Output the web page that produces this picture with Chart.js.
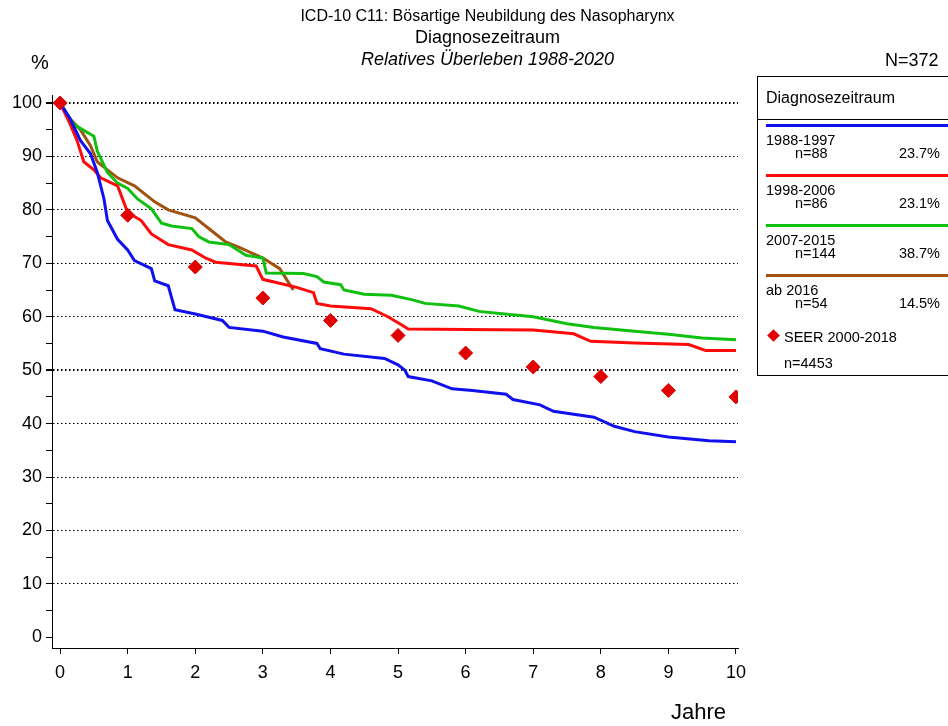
<!DOCTYPE html>
<html><head><meta charset="utf-8">
<script src="https://cdn.jsdelivr.net/npm/chart.js@4"></script>
<style>
body{margin:0;background:#fff;font-family:"Liberation Sans",Arial,sans-serif;}
#wrap{position:relative;width:948px;height:726px;overflow:hidden;}
.t{position:absolute;white-space:nowrap;color:#000;}
#leg{position:absolute;left:757px;top:76px;width:205px;height:298px;border:1px solid #000;font-size:14.5px;}
.row{position:absolute;left:8px;width:182px;}
.bar{height:3px;width:182px;}
</style></head><body>
<div id="wrap">
<canvas id="c" width="948" height="726"></canvas>
<div class="t" style="left:0;width:975px;text-align:center;top:7px;font-size:16px">ICD-10 C11: Bösartige Neubildung des Nasopharynx</div>
<div class="t" style="left:0;width:975px;text-align:center;top:27px;font-size:18px">Diagnosezeitraum</div>
<div class="t" style="left:0;width:975px;text-align:center;top:49px;font-size:18px;font-style:italic">Relatives Überleben 1988-2020</div>
<div class="t" style="left:31px;top:51px;font-size:20px">%</div>
<div class="t" style="left:885px;top:50px;font-size:18px">N=372</div>
<div class="t" style="left:671px;top:699px;font-size:22px">Jahre</div>
<div id="leg"></div>
</div>
<script>
const groups = ['1988-1997', '1998-2006', '2007-2015', 'ab 2016'];
const groupN = ['n=88', 'n=86', 'n=144', 'n=54'];
const groupPct = ['23.7%', '23.1%', '38.7%', '14.5%'];
const colors = ['#1010ee', '#ff0a0a', '#10c010', '#a0520e'];

const blueT = [0,0.15,0.3,0.45,0.55,0.65,0.7,0.85,1.0,1.1,1.35,1.4,1.6,1.7,2.0,2.4,2.5,3.0,3.3,3.8,3.85,4.2,4.8,5.0,5.1,5.15,5.5,5.8,6.1,6.6,6.7,7.1,7.3,7.9,8.2,8.5,9.0,9.6,10];
const blueV = [100,97,93,90.5,87,82,78,74.5,72.5,70.5,69,66.7,65.8,61.3,60.5,59.3,58,57.3,56.2,55,54,53,52.2,51,50,48.8,48,46.5,46.2,45.5,44.5,43.5,42.3,41.2,39.5,38.5,37.5,36.8,36.6];
const redT = [0,0.15,0.25,0.35,0.5,0.6,0.85,1.0,1.2,1.35,1.6,1.95,2.15,2.3,2.9,3.0,3.5,3.75,3.8,4.0,4.6,4.85,5.05,5.15,6.0,7.0,7.6,7.85,8.5,9.3,9.55,10];
const redV = [100,96,93,89,87.5,86,84.5,79.5,78,75.5,73.5,72.5,71,70.2,69.5,67,65.5,64.5,62.5,62,61.5,60,58.5,57.7,57.6,57.5,56.8,55.4,55.1,54.8,53.7,53.7];
const greenT = [0,0.2,0.4,0.5,0.55,0.7,0.85,1.0,1.15,1.35,1.5,1.65,1.95,2.05,2.2,2.5,2.75,3.0,3.05,3.6,3.8,3.9,4.15,4.2,4.5,4.9,5.2,5.4,5.9,6.2,6.5,7.0,7.5,7.9,8.5,9.0,9.5,10];
const greenV = [100,96,94.5,93.8,91,87,85,84,82,80.2,77.5,77,76.5,75,74,73.5,71.5,71,68.2,68.1,67.5,66.5,66,65,64.2,64,63.2,62.5,62,61,60.6,60,58.7,58,57.3,56.7,56,55.7];
const brownT = [0,0.15,0.3,0.45,0.55,0.7,0.85,1.1,1.4,1.6,2.0,2.25,2.45,2.65,3.0,3.25,3.35,3.45];
const brownV = [100,97,95,92,89,87.5,86,84.5,81.5,80,78.5,76,74,73,71,69,67,65];
const seerT = [0,1,2,3,4,5,6,7,8,9,10];
const seerV = [100,79,69.3,63.5,59.3,56.5,53.2,50.6,48.8,46.2,45];

function pts(t, v) { return t.map((x, i) => ({x: x, y: v[i]})); }
const series = [pts(blueT, blueV), pts(redT, redV), pts(greenT, greenV), pts(brownT, brownV)];

const datasets = series.map((d, i) => ({
    label: groups[i], data: d, showLine: true, borderColor: colors[i],
    borderWidth: 3, pointRadius: 0, tension: 0, order: 2
}));
datasets.push({
    label: 'SEER 2000-2018', data: pts(seerT, seerV), showLine: false,
    pointStyle: 'rectRot', pointRadius: 7, backgroundColor: '#e00000', borderColor: '#e00000', order: 1
});

new Chart(document.getElementById('c'), {
    type: 'scatter',
    data: {datasets: datasets},
    options: {
        responsive: false, animation: false,
        layout: {padding: {left: 0, right: 210, top: 95, bottom: 0}},
        plugins: {legend: {display: false}, tooltip: {enabled: false}},
        scales: {
            x: {
                min: -0.12, max: 10.03,
                afterFit: s => { s.height = 78; },
                afterBuildTicks: s => { s.ticks = [0,1,2,3,4,5,6,7,8,9,10].map(v => ({value: v})); },
                ticks: {color: '#000', font: {size: 18, family: 'Liberation Sans'}, padding: 8},
                grid: {display: true, color: 'transparent', tickColor: '#000', tickLength: 6, drawOnChartArea: false},
                border: {color: '#000', width: 1}
            },
            y: {
                min: -2, max: 101.5,
                afterFit: s => { s.width = 52; },
                afterBuildTicks: s => { const a = []; for (let v = 0; v <= 100; v += 5) a.push({value: v}); s.ticks = a; },
                ticks: {color: '#000', font: {size: 18, family: 'Liberation Sans'}, padding: 4,
                    callback: v => (v % 10 === 0 ? v : '')},
                grid: {
                    color: c => (c.tick && c.tick.value % 10 === 0 && c.tick.value > 0 ? '#000' : 'transparent'),
                    lineWidth: c => (c.tick && (c.tick.value === 100 || c.tick.value === 50) ? 2 : 1),
                    tickColor: '#000', tickLength: 6
                },
                border: {color: '#000', width: 1, dash: [1.5, 2.5]}
            }
        }
    }
});

// legend box
const leg = document.getElementById('leg');
let html = '<div class="t" style="left:8px;top:12px;font-size:16px">Diagnosezeitraum</div>' +
    '<div style="position:absolute;left:0;top:42px;width:100%;border-top:1px solid #000"></div>';
groups.forEach((g, i) => {
    const top = 47 + i * 50;
    html += '<div class="row" style="top:' + top + 'px"><div class="bar" style="background:' + colors[i] + '"></div></div>' +
        '<div class="t" style="left:8px;top:' + (top + 8) + 'px">' + g + '</div>' +
        '<div class="t" style="left:37px;top:' + (top + 21) + 'px">' + groupN[i] + '</div>' +
        '<div class="t" style="left:130px;top:' + (top + 21) + 'px;width:52px;text-align:right">' + groupPct[i] + '</div>';
});
html += '<div class="t" style="left:11px;top:254px;width:9px;height:9px;background:#e00000;transform:rotate(45deg)"></div>' +
    '<div class="t" style="left:26px;top:252px">SEER 2000-2018</div>' +
    '<div class="t" style="left:26px;top:278px">n=4453</div>';
leg.innerHTML = html;
</script>
</body></html>
